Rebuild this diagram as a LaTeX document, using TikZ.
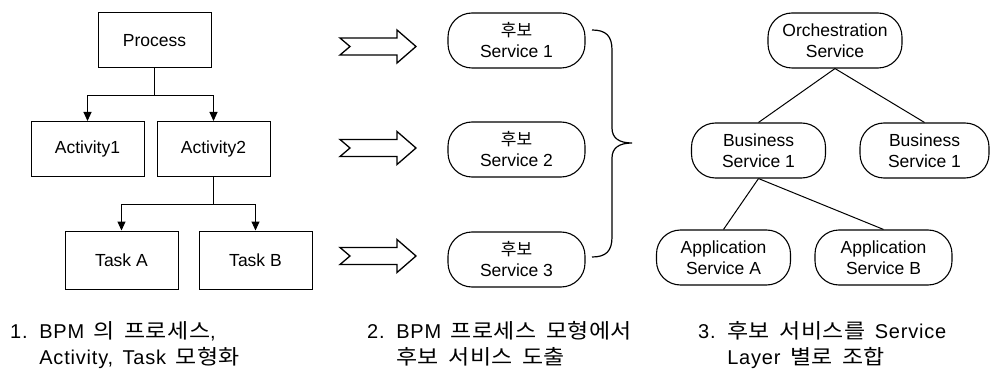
\documentclass[tikz,border=0pt]{standalone}
\usepackage{fontspec}
\setmainfont{Liberation Sans}
\newfontfamily\kr{Noto Sans CJK KR}
\newfontfamily\capfont{Liberation Sans}[LetterSpace=4,WordSpace=1.5]
\newfontfamily\capkr{Noto Sans CJK KR}[FakeStretch=1.12,LetterSpace=2]
\newcommand\kb[1]{{\kr\fontsize{17}{20}\selectfont #1}}
\newcommand\kc[1]{{\capkr\fontsize{20.5}{23}\selectfont #1}}
\usetikzlibrary{positioning}
\usetikzlibrary{arrows.meta}

\tikzset{
   box/.style={draw,line width=1pt,minimum width=113pt,minimum height=55pt,
      font=\fontsize{17.5}{21}\selectfont},
   svc/.style={draw,line width=1.1pt,rounded corners=24pt,minimum width=134pt,
      minimum height=55pt,align=center,inner sep=0pt,font=\fontsize{17.5}{21}\selectfont},
   captext/.style={anchor=base west,inner sep=0pt,font=\capfont\fontsize{20}{23}\selectfont},
   hollow arrow/.pic={
      \draw[line width=1.3pt,line join=miter] (0,-8.5) -- (57,-8.5) -- (57,-16.5)
         -- (76,0) -- (57,16.5) -- (57,8.5) -- (0,8.5) -- (10,0) -- cycle;}
}

\begin{document}
\begin{tikzpicture}[x=1pt,y=-1pt,node distance=100pt,on grid,>={Triangle[width=8pt,length=9pt]}]
   \useasboundingbox (0,0) rectangle (990,374);

   % BPM model
   \node[box] (process) at (154.5,40.5) {Process};
   \node[box] (act1) [below left=108.5pt and 67pt of process] {Activity1};
   \node[box] (act2) [right=126pt of act1] {Activity2};
   \node[box,minimum height=58pt] (taska) [below left=111pt and 92pt of act2] {Task A};
   \node[box,minimum height=58pt] (taskb) [right=134pt of taska] {Task B};
   \draw[line width=1pt,->] (process.south) -- ++(0,27) -| (act1.north);
   \draw[line width=1pt,->] (process.south) -- ++(0,27) -| (act2.north);
   \draw[line width=1pt,->] (act2.south) -- ++(0,28) -| (taska.north);
   \draw[line width=1pt,->] (act2.south) -- ++(0,28) -| (taskb.north);

   % candidate services
   \pic at (340,46.5) {hollow arrow};
   \pic at (340,148) {hollow arrow};
   \pic at (340,256) {hollow arrow};
   \node[svc,minimum width=137pt] (svc1) at (516.5,40.5) {\kb{후보}\\Service 1};
   \node[svc,minimum width=137pt] (svc2) [below=109pt of svc1] {\kb{후보}\\Service 2};
   \node[svc,minimum width=137pt] (svc3) [below=110pt of svc2] {\kb{후보}\\Service 3};
   \draw[line width=1.2pt] (592,30) .. controls (606,30) and (612,36) .. (612,50)
      -- (612,128) .. controls (612,138) and (619,143) .. (632,143)
      .. controls (619,143) and (612,148) .. (612,158)
      -- (612,237) .. controls (612,251) and (606,257) .. (592,257);

   % service layers
   \node[svc] (orch) at (835,40.5) {Orchestration\\Service};
   \node[svc] (busl) [below left=110pt and 76.5pt of orch] {Business\\Service 1};
   \node[svc,minimum width=129pt] (busr) [right=166pt of busl] {Business\\Service 1};
   \node[svc] (appa) [below left=107pt and 35pt of busl] {Application\\Service A};
   \node[svc,minimum width=137pt] (appb) [right=160pt of appa] {Application\\Service B};
   \draw[line width=1pt] (orch.south) -- (busl.north);
   \draw[line width=1pt] (orch.south) -- (busr.north);
   \draw[line width=1pt] (busl.south) -- (appa.north);
   \draw[line width=1pt] (busl.south) -- (appb.north);

   % captions, second lines hang under the first word
   \node[captext] (cap1a) at (10,338) {1. BPM \kc{의} \kc{프로세스},};
   \node[captext] (cap1b) at (10,364) {\phantom{1. }Activity, Task \kc{모형화}};
   \node[captext] (cap2a) at (367,338) {2. BPM \kc{프로세스} \kc{모형에서}};
   \node[captext] (cap2b) at (367,364) {\phantom{2. }\kc{후보} \kc{서비스} \kc{도출}};
   \node[captext] (cap3a) at (698,338) {3. \kc{후보} \kc{서비스를} Service};
   \node[captext] (cap3b) at (698,364) {\phantom{3. }Layer \kc{별로} \kc{조합}};
\end{tikzpicture}
\end{document}
